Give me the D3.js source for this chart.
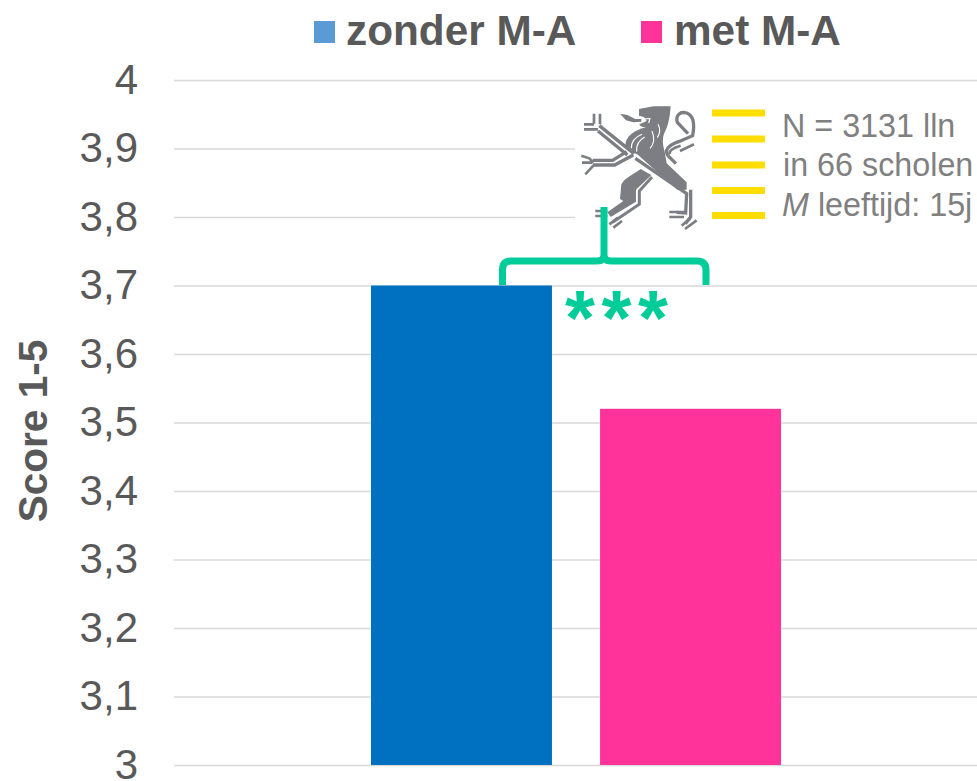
<!DOCTYPE html>
<html>
<head>
<meta charset="utf-8">
<script src="https://cdn.jsdelivr.net/npm/d3@7/dist/d3.min.js"></script>
<style>
html,body{margin:0;padding:0;background:#fff;overflow:hidden}
svg{display:block}
text{font-family:"Liberation Sans",Arial,sans-serif}
</style>
</head>
<body>
<div id="chart"></div>
<script>
const categories = ["totaal"];
const seriesNames = ["zonder M-A", "met M-A"];
const barValues = [3.7, 3.52];
const tickValues = [3, 3.1, 3.2, 3.3, 3.4, 3.5, 3.6, 3.7, 3.8, 3.9, 4];
const tickLabels = ["3", "3,1", "3,2", "3,3", "3,4", "3,5", "3,6", "3,7", "3,8", "3,9", "4"];
const barColors = ["#0070c0", "#ff3399"];
const legendColors = ["#5b9bd5", "#ff3399"];
const infoLines = ["N = 3131 lln", "in 66 scholen", "leeftijd: 15j"];
const axisTitle = "Score 1-5";
const significance = "***";

const W = 977, H = 781;
const svg = d3.select("#chart").append("svg").attr("width", W).attr("height", H);

const y = d3.scaleLinear().domain([3, 4]).range([765, 80]);
const x1 = d3.scaleBand().domain(seriesNames).range([371, 781]).paddingInner(0.21).paddingOuter(0);

const axis = d3.axisLeft(y).tickValues(tickValues)
  .tickFormat((d, i) => tickLabels[i]).tickSize(-(977 - 174)).tickPadding(36);
const gA = svg.append("g").attr("transform", "translate(174,0)").call(axis);
gA.select(".domain").remove();
gA.selectAll(".tick line").attr("stroke", "#d9d9d9").attr("stroke-width", 1.5);
gA.selectAll(".tick text").attr("fill", "#595959").attr("font-size", 42)
  .attr("x", -36).attr("dy", "0.31em");

svg.append("text").attr("transform", "translate(47,431) rotate(-90)")
  .attr("text-anchor", "middle").attr("font-size", 40.5).attr("font-weight", "bold")
  .attr("fill", "#595959").text(axisTitle);

svg.append("g").selectAll("rect").data(barValues).join("rect")
  .attr("x", (d, i) => x1(seriesNames[i]))
  .attr("width", x1.bandwidth())
  .attr("y", d => y(d))
  .attr("height", d => y(3) - y(d))
  .attr("fill", (d, i) => barColors[i]);

const legendX = [314, 641], legendTextX = [346, 674];
const lg = svg.append("g").selectAll("g").data(seriesNames).join("g");
lg.append("rect").attr("x", (d, i) => legendX[i]).attr("y", 21).attr("width", 21).attr("height", 22)
  .attr("fill", (d, i) => legendColors[i]);
lg.append("text").attr("x", (d, i) => legendTextX[i]).attr("y", 45)
  .attr("font-size", 42.3).attr("font-weight", "bold").attr("fill", "#595959").text(d => d);

svg.append("rect").attr("x", 575).attr("y", 100).attr("width", 402).attr("height", 135).attr("fill", "#fff");

// Flemish lion
const lion = svg.append("g").attr("transform", "translate(570,95) scale(0.3333)");
const G = "#7c7e84";
const stroke = (w, d) => lion.append("path").attr("fill", "none").attr("stroke", G).attr("stroke-width", w).attr("d", d);
const fill = d => lion.append("path").attr("fill", G).attr("d", d);
const white = (w, d) => lion.append("path").attr("fill", "none").attr("stroke", "#fff").attr("stroke-width", w).attr("d", d);

// head, neck and torso
fill("M207,42 L250,34 L302,34 C300,62 296,90 284,112 C276,130 278,150 284,170 L290,205 L350,262 L350,284 L322,284 L200,176 L234,158 L226,128 L228,98 L212,94 L208,88 L230,78 L222,66 L207,62 Z");
// mane
fill("M166,150 C168,124 190,106 232,96 L240,160 L200,178 L180,168 Z");
white(3.5, "M184,160 C184,138 198,125 216,118 M200,170 C198,150 208,135 224,126 M246,108 C254,128 254,145 240,160 M264,88 C272,102 270,116 262,128 M224,72 L240,70 L236,84");
// tongue
fill("M150,56 L172,60 L196,72 L214,72 L214,80 L190,82 L168,76 Z");
// tail
stroke(10, "M318,206 L296,184 C280,166 296,150 326,140 L368,122 C374,90 372,62 350,54 C330,48 316,62 322,82 L354,116");
stroke(8, "M330,168 L372,148 M300,178 C296,168 306,160 332,152");
// upper-left arm
stroke(10, "M88,92 L192,176 M84,108 L172,180");
stroke(8, "M42,88 L72,88 M42,103 L84,103 M72,56 L72,86 M90,56 L90,88");
// middle arm
stroke(10, "M68,196 L128,196 L170,170 M68,210 L134,210 L190,180");
stroke(8, "M34,182 L58,190 L70,203 M36,203 L66,203 M46,238 L70,212");
// lower body and left leg
fill("M212,222 L244,240 L198,284 L198,320 L122,366 L112,352 L160,318 L150,312 L154,268 C165,248 190,238 212,222 Z");
stroke(9, "M246,246 L208,288 L208,328 L128,382");
stroke(8, "M76,348 L112,348 M76,363 L112,363 M118,388 L144,368 M130,398 L156,378");
// right leg
stroke(10, "M196,190 L350,296 L347,354 L320,352 M362,284 L362,366 L346,386");
stroke(8, "M298,351 L342,351 M298,366 L342,366 M335,392 L362,370 M345,402 L380,376");

const stripeY = [113, 139, 165, 190.5, 215.5];
svg.append("g").selectAll("rect").data(stripeY).join("rect")
  .attr("x", 712).attr("width", 53).attr("y", d => d - 3.5).attr("height", 7).attr("fill", "#ffdd00");

const infoStyle = s => s.attr("font-size", 32.3).attr("fill", "#808080");
svg.append("text").attr("x", 782).attr("y", 137).call(infoStyle).text(infoLines[0]);
svg.append("text").attr("x", 783).attr("y", 176).call(infoStyle).text(infoLines[1]);
const t3 = svg.append("text").attr("x", 782).attr("y", 215.5).call(infoStyle);
t3.append("tspan").attr("font-style", "italic").text("M");
t3.append("tspan").text(" " + infoLines[2]);

svg.append("path").attr("fill", "none").attr("stroke", "#00cc99").attr("stroke-width", 7).attr("d",
 "M502.5,285 L502.5,270 Q502.5,261 511,261 L597,261 Q604,261 604,255 L604,207 M604,255 Q604,261 611,261 L697,261 Q706,261 706,270 L706,285");

svg.append("text").attr("x", 565).attr("y", 345)
  .attr("font-size", 77).attr("font-weight", "bold").attr("letter-spacing", 6.5).attr("fill", "#00cc99").text(significance);
</script>
</body>
</html>
